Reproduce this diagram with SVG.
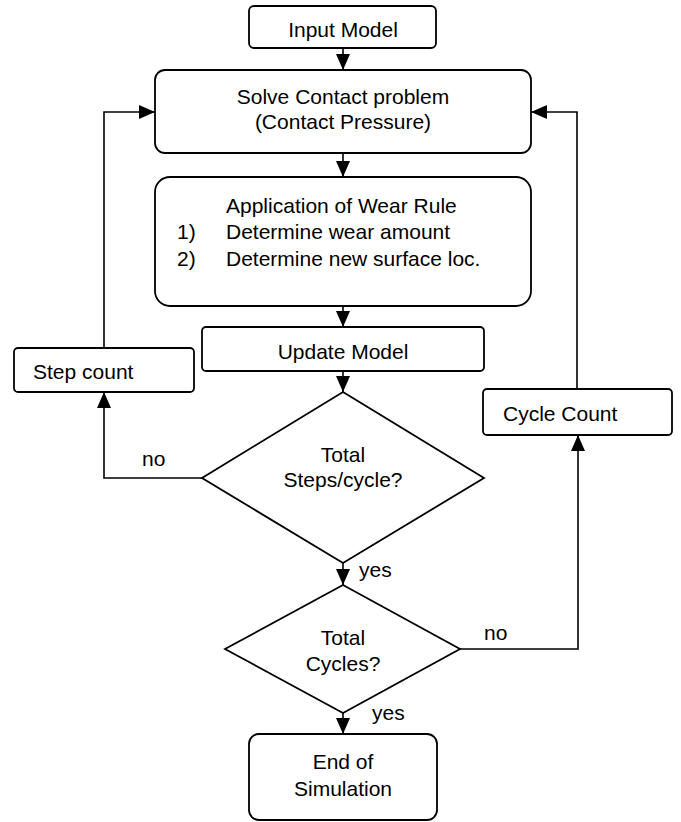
<svg xmlns="http://www.w3.org/2000/svg" width="681" height="822" viewBox="0 0 681 822">
<style>
.box{fill:#fff;stroke:#000;stroke-width:1.8}
.t{font-family:"Liberation Sans",Arial,Helvetica,sans-serif;font-size:21px;fill:#000}
.c{text-anchor:middle}
.ln{fill:none;stroke:#000;stroke-width:1.6}
</style>
<defs>
<marker id="ah" markerUnits="userSpaceOnUse" markerWidth="16" markerHeight="14" refX="16" refY="7" orient="auto">
<path d="M0,0 L16,7 L0,14 z" fill="#000"/>
</marker>
</defs>
<rect width="681" height="822" fill="#fff"/>
<g id="connectors">
<line class="ln" x1="343" y1="48" x2="343" y2="70" marker-end="url(#ah)"/>
<line class="ln" x1="343" y1="153" x2="343" y2="177" marker-end="url(#ah)"/>
<line class="ln" x1="343" y1="306" x2="343" y2="327" marker-end="url(#ah)"/>
<line class="ln" x1="343" y1="371" x2="343" y2="392" marker-end="url(#ah)"/>
<polyline class="ln" points="202,478 104,478 104,392" marker-end="url(#ah)"/>
<polyline class="ln" points="104,348 104,112 155,112" marker-end="url(#ah)"/>
<line class="ln" x1="343" y1="563" x2="343" y2="585" marker-end="url(#ah)"/>
<polyline class="ln" points="460,649 578,649 578,435" marker-end="url(#ah)"/>
<polyline class="ln" points="577,389 577,112 531,112" marker-end="url(#ah)"/>
<line class="ln" x1="343" y1="713" x2="343" y2="734" marker-end="url(#ah)"/>
<text class="t" x="142" y="466">no</text>
<text class="t" x="359" y="577">yes</text>
<text class="t" x="484" y="640">no</text>
<text class="t" x="372" y="720">yes</text>
</g>
<g id="input-model">
<rect class="box" x="249" y="6" width="187" height="42" rx="5"/>
<text class="t c" x="343" y="37">Input Model</text>
</g>
<g id="solve-contact">
<rect class="box" x="155" y="70" width="376" height="83" rx="10"/>
<text class="t c" x="343" y="104">Solve Contact problem</text>
<text class="t c" x="343" y="129">(Contact Pressure)</text>
</g>
<g id="wear-rule">
<rect class="box" x="155" y="177" width="376" height="129" rx="15"/>
<text class="t" x="226" y="213">Application of Wear Rule</text>
<text class="t" x="177" y="239">1)</text>
<text class="t" x="226" y="239">Determine wear amount</text>
<text class="t" x="177" y="266">2)</text>
<text class="t" x="226" y="266">Determine new surface loc.</text>
</g>
<g id="update-model">
<rect class="box" x="202" y="327" width="282" height="44" rx="4"/>
<text class="t c" x="343" y="359">Update Model</text>
</g>
<g id="step-count">
<rect class="box" x="14" y="348" width="180" height="44" rx="4"/>
<text class="t" x="33" y="379">Step count</text>
</g>
<g id="cycle-count">
<rect class="box" x="483" y="389" width="189" height="46" rx="4"/>
<text class="t" x="503" y="421">Cycle Count</text>
</g>
<g id="steps-decision">
<polygon class="box" points="343,392 484,478 343,563 202,478"/>
<text class="t c" x="343" y="462">Total</text>
<text class="t c" x="343" y="487">Steps/cycle?</text>
</g>
<g id="cycles-decision">
<polygon class="box" points="343,585 460,649 343,713 225,649"/>
<text class="t c" x="343" y="645">Total</text>
<text class="t c" x="343" y="671">Cycles?</text>
</g>
<g id="end-simulation">
<rect class="box" x="249" y="734" width="188" height="86" rx="10"/>
<text class="t c" x="343" y="769">End of</text>
<text class="t c" x="343" y="796">Simulation</text>
</g>
</svg>
